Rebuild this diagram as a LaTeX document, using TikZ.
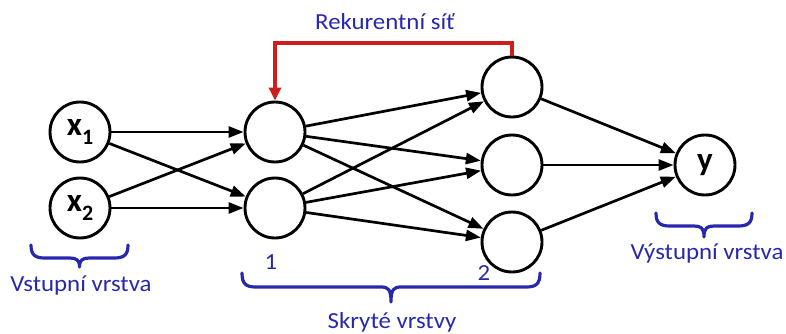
\documentclass[tikz,border=0pt]{standalone}
\usepackage{fontspec}
\setmainfont{Carlito}
\usetikzlibrary{arrows.meta}
\definecolor{labelblue}{RGB}{40,40,175}
\definecolor{recred}{RGB}{205,30,30}
\tikzset{
  neuron/.style={circle,draw=black,line width=2.9pt,minimum size=60pt,inner sep=0pt,fill=white},
  edge/.style={line width=2.7pt,-{Triangle[length=15pt,width=11pt]}},
  recurrent/.style={draw=recred,line width=3.4pt,-{Triangle[length=13pt,width=12pt]}},
  layerbrace/.style={draw=labelblue,line width=3.2pt,line cap=round,line join=round},
  caption/.style={text=labelblue,font=\fontsize{23}{25}\selectfont,inner sep=0pt,xscale=1.08},
  varlabel/.style={font=\fontsize{33}{35}\selectfont\bfseries}
}
% curly brace opening downwards: left x, right x, top y of the hooks,
% y of the straight part, y of the tip
\newcommand\drawlayerbrace[5]{%
  \draw[layerbrace] (#1,#3) .. controls (#1,#4-3) and (#1+4,#4) .. (#1+14,#4)
    -- ({(#1+#2)/2-10},#4) .. controls ({(#1+#2)/2-3},#4) and ({(#1+#2)/2},#4+2) .. ({(#1+#2)/2},#5)
    .. controls ({(#1+#2)/2},#4+2) and ({(#1+#2)/2+3},#4) .. ({(#1+#2)/2+10},#4)
    -- (#2-14,#4) .. controls (#2-4,#4) and (#2,#4-3) .. (#2,#3);}
\begin{document}
\begin{tikzpicture}[x=1pt,y=-1pt]
  \useasboundingbox (0,0) rectangle (786,334);

  % input layer
  \node[neuron,varlabel] (x1) at (80,132) {x\raisebox{-0.28em}{\fontsize{22}{24}\selectfont 1}};
  \node[neuron,varlabel] (x2) at (80,208) {x\raisebox{-0.28em}{\fontsize{22}{24}\selectfont 2}};

  % hidden layer 1
  \node[neuron] (a1) at (275,132) {};
  \node[neuron] (a2) at (275,208) {};

  % hidden layer 2
  \node[neuron] (b1) at (512,87) {};
  \node[neuron] (b2) at (512,165) {};
  \node[neuron] (b3) at (512,242) {};

  % output layer
  \node[neuron,varlabel] (y) at (705,165) {y};

  % connections
  \foreach \s in {x1,x2} \foreach \t in {a1,a2} \draw[edge] (\s) -- (\t);
  \foreach \s in {a1,a2} \foreach \t in {b1,b2,b3} \draw[edge] (\s) -- (\t);
  \foreach \s in {b1,b2,b3} \draw[edge] (\s) -- (y);

  % recurrent feedback loop
  \coordinate (rt) at (0,43);
  \draw[recurrent] (b1.north) -- (b1.north |- rt) -| (a1.north);
  \node[caption] (rlabel) at (385,22) {Rekurentní síť};

  % layer braces and captions
  \drawlayerbrace{31}{128}{245}{258}{267}
  \node[caption] (ilabel) at (81,285) {Vstupní vrstva};

  \node[caption] (n1) at (271,262) {1};
  \node[caption] (n2) at (484,273) {2};
  \drawlayerbrace{242}{540}{273}{287}{302}
  \node[caption] (hlabel) at (392,322) {Skryté vrstvy};

  \drawlayerbrace{656}{752}{213}{226}{237}
  \node[caption] (olabel) at (707,253) {Výstupní vrstva};
\end{tikzpicture}
\end{document}
